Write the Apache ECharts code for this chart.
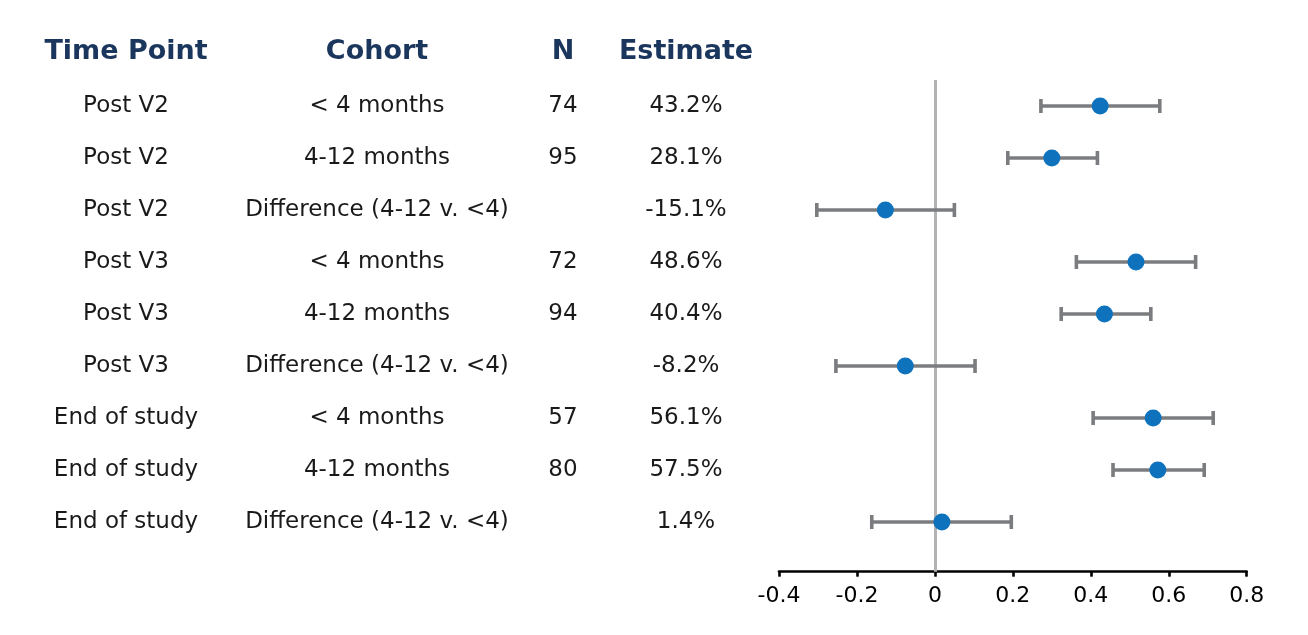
<!DOCTYPE html>
<html>
<head>
<meta charset="utf-8">
<script src="https://cdn.jsdelivr.net/npm/echarts@6/dist/echarts.min.js"></script>
<style>html,body{margin:0;padding:0;background:#fff;}#c{width:1308px;height:635px;}</style>
</head>
<body>
<div id="c"></div>
<script>
// ---- data ----
const headers = ['Time Point', 'Cohort', 'N', 'Estimate'];
const timePoints = ['Post V2', 'Post V2', 'Post V2', 'Post V3', 'Post V3', 'Post V3', 'End of study', 'End of study', 'End of study'];
const cohorts = ['< 4 months', '4-12 months', 'Difference (4-12 v. <4)', '< 4 months', '4-12 months', 'Difference (4-12 v. <4)', '< 4 months', '4-12 months', 'Difference (4-12 v. <4)'];
const nValues = [74, 95, null, 72, 94, null, 57, 80, null];
const estimatePct = [43.2, 28.1, -15.1, 48.6, 40.4, -8.2, 56.1, 57.5, 1.4];
const pointX = [0.424, 0.300, -0.127, 0.516, 0.435, -0.076, 0.560, 0.572, 0.018];
const lowerCI = [0.272, 0.187, -0.303, 0.363, 0.324, -0.254, 0.406, 0.457, -0.162];
const upperCI = [0.577, 0.417, 0.050, 0.669, 0.554, 0.103, 0.714, 0.691, 0.196];
const xTickMin = -0.4, xTickMax = 0.8, xTickStep = 0.2;

// ---- layout / style ----
const columnX = [126, 377, 563, 686];
const FONT = '"DejaVu Sans", sans-serif';
const headerColor = '#1b365d';
const bodyColor = '#1a1a1a';

const rows = timePoints.map((_, i) => i + 1);

function labelStyle(isHeader) {
  return {
    show: true, position: 'inside',
    formatter: p => p.data.text,
    fontFamily: FONT,
    fontSize: isHeader ? 27 : 23,
    fontWeight: isHeader ? 'bold' : 'normal',
    color: isHeader ? headerColor : bodyColor,
    opacity: 1
  };
}

function textSeries(colIdx, texts) {
  const data = [];
  texts.forEach((t, i) => {
    if (t === null || t === undefined) return;
    data.push({ value: [columnX[colIdx], rows[i]], text: t });
  });
  return {
    type: 'scatter', xAxisIndex: 1, yAxisIndex: 1, symbolSize: 0, silent: true, clip: false,
    itemStyle: { opacity: 1 },
    data: data,
    label: labelStyle(false)
  };
}

const series = [];
series.push({
  type: 'scatter', xAxisIndex: 1, yAxisIndex: 1, symbolSize: 0, silent: true, clip: false,
  itemStyle: { opacity: 1 },
  data: headers.map((h, c) => ({ value: [columnX[c], -0.04], text: h })),
  label: labelStyle(true)
});
series.push(textSeries(0, timePoints));
series.push(textSeries(1, cohorts));
series.push(textSeries(2, nValues.map(v => v === null ? null : String(v))));
series.push(textSeries(3, estimatePct.map(v => v.toFixed(1) + '%')));

// error bars
series.push({
  type: 'custom', xAxisIndex: 0, yAxisIndex: 0, silent: true,
  data: rows.map((r, i) => [lowerCI[i], upperCI[i], r]),
  encode: { x: [0, 1], y: 2 },
  renderItem: function (params, api) {
    const lo = api.coord([api.value(0), api.value(2)]);
    const hi = api.coord([api.value(1), api.value(2)]);
    const cap = 7;
    const style = { stroke: '#7a7c7f', lineWidth: 3.6 };
    return {
      type: 'group',
      children: [
        { type: 'line', shape: { x1: lo[0], y1: lo[1], x2: hi[0], y2: hi[1] }, style: style },
        { type: 'line', shape: { x1: lo[0], y1: lo[1] - cap, x2: lo[0], y2: lo[1] + cap }, style: style },
        { type: 'line', shape: { x1: hi[0], y1: hi[1] - cap, x2: hi[0], y2: hi[1] + cap }, style: style }
      ]
    };
  },
  z: 3
});
// points + zero reference line
series.push({
  type: 'scatter', xAxisIndex: 0, yAxisIndex: 0, silent: true,
  data: rows.map((r, i) => [pointX[i], r]),
  symbol: 'circle', symbolSize: 17,
  itemStyle: { color: '#0e72bd', opacity: 1 },
  z: 4,
  markLine: {
    silent: true, symbol: 'none', label: { show: false },
    lineStyle: { color: '#b3b3b5', width: 3, type: 'solid' },
    data: [{ xAxis: 0 }],
    z: 1
  }
});

const chart = echarts.init(document.getElementById('c'), null, { renderer: 'canvas' });
chart.setOption({
  animation: false,
  backgroundColor: '#ffffff',
  grid: [
    { left: 779, right: 61.3, top: 80, bottom: 63.3 },
    { left: 0, right: 0, top: 0, bottom: 0 }
  ],
  xAxis: [
    {
      type: 'value', gridIndex: 0, min: xTickMin, max: xTickMax, interval: xTickStep,
      position: 'bottom',
      axisLine: { show: true, onZero: false, lineStyle: { color: '#000', width: 2.6 } },
      axisTick: { show: true, length: 5, lineStyle: { color: '#000', width: 2.6 } },
      splitLine: { show: false },
      axisLabel: { fontFamily: FONT, fontSize: 22, color: '#000', margin: 14,
        formatter: v => (Math.abs(v) < 1e-9 ? '0' : v.toFixed(1)) }
    },
    { type: 'value', gridIndex: 1, min: 0, max: 1308, show: false }
  ],
  yAxis: [
    { type: 'value', gridIndex: 0, inverse: true, min: 0.5, max: 9.956, show: false },
    { type: 'value', gridIndex: 1, inverse: true, min: 0.5 - 80 / 52, max: 0.5 + 555 / 52, show: false }
  ],
  series: series
});
</script>
</body>
</html>
